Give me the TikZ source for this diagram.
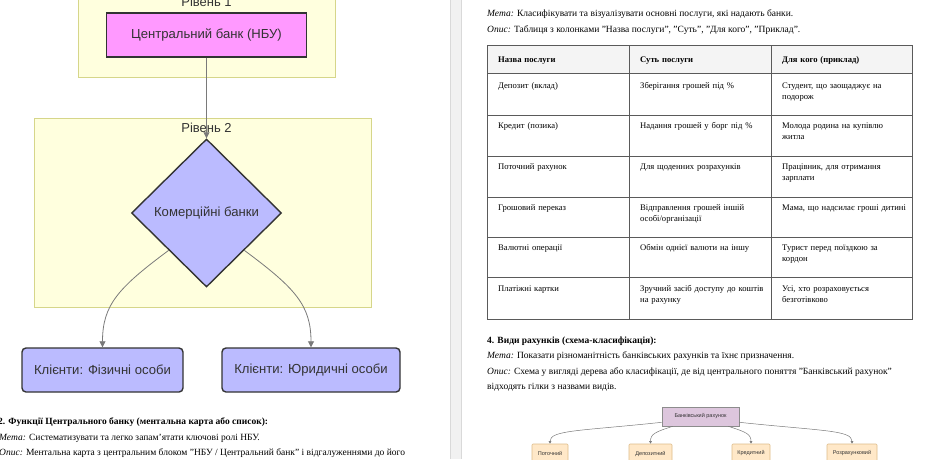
\documentclass[tikz,border=0pt]{standalone}
\usepackage{fontspec}
\setmainfont{Liberation Serif}
\newfontfamily\chartfont{Liberation Sans}
\definecolor{rivenFill}{HTML}{FFFFDE}
\definecolor{rivenLine}{HTML}{D6D68A}
\definecolor{nbuFill}{HTML}{FF99FF}
\definecolor{bankFill}{HTML}{BBBBFF}
\definecolor{chartLine}{HTML}{333333}
\definecolor{edgeGrey}{HTML}{7A7A7A}
\definecolor{pageGap}{HTML}{F1F1F1}
\definecolor{tableLine}{HTML}{5A5A5A}
\definecolor{headFill}{HTML}{F4F4F4}
\definecolor{rootFill}{HTML}{DDC6DD}
\definecolor{rootLine}{HTML}{8C8C8C}
\definecolor{leafFill}{HTML}{FFE8C8}
\definecolor{leafLine}{HTML}{DDBB88}
\usetikzlibrary{
	arrows.meta,
	positioning,
	shapes.geometric
}
\tikzset{
	riven/.style={
		draw=rivenLine,
		fill=rivenFill,
		line width=1pt
	},
	rivenNapys/.style={
		font=\chartfont\fontsize{13}{16}\selectfont,
		text=chartLine
	},
	nbuBox/.style={
		draw=chartLine,
		fill=nbuFill,
		line width=1.4pt,
		minimum width=200pt,
		minimum height=44pt,
		font=\chartfont\fontsize{13.1}{16}\selectfont,
		text=chartLine
	},
	bankRomb/.style={
		diamond,
		draw=chartLine,
		fill=bankFill,
		line width=1.4pt,
		inner sep=0pt,
		minimum width=150pt,
		minimum height=148pt,
		font=\chartfont\fontsize{13.1}{16}\selectfont,
		text=chartLine
	},
	klient/.style={
		draw=chartLine,
		fill=bankFill,
		rounded corners=4pt,
		line width=1.4pt,
		minimum height=44pt,
		font=\chartfont\fontsize{13.1}{16}\selectfont,
		text=chartLine
	},
	strilka/.style={
		-{Triangle[length=6pt,width=6pt]},
		line width=0.8pt,
		edgeGrey
	},
	abzac/.style={
		anchor=base west,
		inner sep=0pt,
		font=\fontsize{9.5}{12}\selectfont
	},
	komirka/.style={
		anchor=base west,
		inner sep=0pt,
		text width=135pt,
		align=left,
		font=\fontsize{8.6}{11.5}\selectfont
	},
	liniya/.style={
		draw=tableLine,
		line width=1pt
	},
	korin/.style={
		draw=rootLine,
		fill=rootFill,
		line width=0.6pt,
		minimum width=77pt,
		minimum height=19pt,
		inner sep=0pt,
		font=\chartfont\fontsize{5.5}{7}\selectfont,
		text=chartLine
	},
	vyd/.style={
		draw=leafLine,
		fill=leafFill,
		rounded corners=1pt,
		line width=0.6pt,
		minimum height=19pt,
		inner sep=0pt,
		font=\chartfont\fontsize{5.5}{7}\selectfont,
		text=chartLine
	},
	strilkaMala/.style={
		-{Triangle[length=2.5pt,width=2.5pt]},
		line width=0.5pt,
		edgeGrey
	}
}

\begin{document}
\begin{tikzpicture}[x=1pt, y=-1pt]
	\useasboundingbox (0,0) rectangle (940,459);
	\clip (0,0) rectangle (940,459);
	% left page: levels scheme
	\draw[riven] (78,-40) rectangle (335,77);
	\node[rivenNapys] (riven1) at (206.5,2) {Рівень 1};
	\draw[riven] (34,118) rectangle (371,307);
	\node[rivenNapys] (riven2) at (206.5,128) {Рівень 2};
	\node[nbuBox] (nbu) at (206.5,35) {Центральний банк (НБУ)};
	\node[bankRomb] (banky) at (206.5,213) {Комерційні банки};
	\node[klient, minimum width=161pt] (fizychni) at (102.5,370) {Клієнти: Фізичні особи};
	\node[klient, minimum width=178pt] (yurydychni) at (311,370) {Клієнти: Юридичні особи};
	\draw[strilka] (nbu.south) -- (banky.north);
	\draw[strilka] (banky.south west) .. controls (118,288) and (102.5,305) .. (fizychni.north);
	\draw[strilka] (banky.south east) .. controls (295,288) and (311,305) .. (yurydychni.north);
	\node[abzac, font=\fontsize{9.5}{12}\selectfont\bfseries] (punkt2) at (-2,424.5) {2. Функції Центрального банку (ментальна карта або список):};
	\node[abzac] (meta2) at (-1,440) {\textit{Мета:} Систематизувати та легко запам'ятати ключові ролі НБУ.};
	\node[abzac] (opys2) at (-1,455.5) {\textit{Опис:} Ментальна карта з центральним блоком "НБУ / Центральний банк" і відгалуженнями до його};
	% gap between pages
	\fill[pageGap] (450,0) rectangle (461,459);
	\draw[gray!30] (450,0) -- (450,459);
	\draw[gray!30] (461,0) -- (461,459);
	% right page: services table
	\node[abzac] (meta3) at (487,16.5) {\textit{Мета:} Класифікувати та візуалізувати основні послуги, які надають банки.};
	\node[abzac] (opys3) at (487,32) {\textit{Опис:} Таблиця з колонками "Назва послуги", "Суть", "Для кого", "Приклад".};
	\fill[headFill] (487,45) rectangle (912,73);
	\foreach \y in {73,115,156,197,237,277}
		\draw[liniya] (487,\y) -- (912,\y);
	\foreach \x in {629,771}
		\draw[liniya] (\x,45) -- (\x,319);
	\draw[liniya] (487,45) rectangle (912,319);
	\node[komirka, font=\fontsize{8.6}{11.5}\selectfont\bfseries] (h1) at (498,62) {Назва послуги};
	\node[komirka, font=\fontsize{8.6}{11.5}\selectfont\bfseries] (h2) at (640,62) {Суть послуги};
	\node[komirka, font=\fontsize{8.6}{11.5}\selectfont\bfseries] (h3) at (782,62) {Для кого (приклад)};
	\node[komirka] (a1) at (498,88) {Депозит (вклад)};
	\node[komirka] (b1) at (640,88) {Зберігання грошей під \%};
	\node[komirka] (c1) at (782,88) {Студент, що заощаджує на\\подорож};
	\node[komirka] (a2) at (498,128) {Кредит (позика)};
	\node[komirka] (b2) at (640,128) {Надання грошей у борг під \%};
	\node[komirka] (c2) at (782,128) {Молода родина на купівлю\\житла};
	\node[komirka] (a3) at (498,169) {Поточний рахунок};
	\node[komirka] (b3) at (640,169) {Для щоденних розрахунків};
	\node[komirka] (c3) at (782,169) {Працівник, для отримання\\зарплати};
	\node[komirka] (a4) at (498,210) {Грошовий переказ};
	\node[komirka] (b4) at (640,210) {Відправлення грошей іншій\\особі/організації};
	\node[komirka] (c4) at (782,210) {Мама, що надсилає гроші дитині};
	\node[komirka] (a5) at (498,250) {Валютні операції};
	\node[komirka] (b5) at (640,250) {Обмін однієї валюти на іншу};
	\node[komirka] (c5) at (782,250) {Турист перед поїздкою за\\кордон};
	\node[komirka] (a6) at (498,291) {Платіжні картки};
	\node[komirka] (b6) at (640,291) {Зручний засіб доступу до коштів\\на рахунку};
	\node[komirka] (c6) at (782,291) {Усі, хто розраховується\\безготівково};
	% right page: kinds of accounts
	\node[abzac, font=\fontsize{9.5}{12}\selectfont\bfseries] (punkt4) at (487,343) {4. Види рахунків (схема-класифікація):};
	\node[abzac] (meta4) at (487,358.5) {\textit{Мета:} Показати різноманітність банківських рахунків та їхнє призначення.};
	\node[abzac] (opys4) at (487,374) {\textit{Опис:} Схема у вигляді дерева або класифікації, де від центрального поняття "Банківський рахунок"};
	\node[abzac] (opys4b) at (487,389.5) {відходять гілки з назвами видів.};
	\node[korin] (rakhunok) at (700.5,416.5) {Банківський рахунок};
	\node[vyd, minimum width=36pt] (potochnyi) at (550,453.5) {Поточний};
	\node[vyd, minimum width=43pt] (depozytnyi) at (650.5,453.5) {Депозитний};
	\node[vyd, minimum width=38pt] (kredytnyi) at (751,453.5) {Кредитний};
	\node[vyd, minimum width=50pt] (rozrakhunkovyi) at (852,453.5) {Розрахунковий};
	\draw[strilkaMala] ([yshift=4pt]rakhunok.south west) .. controls (580,431) and (550,430) .. (potochnyi.north);
	\draw[strilkaMala] ([xshift=11pt]rakhunok.south west) .. controls (655,432) and (650.5,434) .. (depozytnyi.north);
	\draw[strilkaMala] ([xshift=-11pt]rakhunok.south east) .. controls (746,432) and (751,434) .. (kredytnyi.north);
	\draw[strilkaMala] ([yshift=4pt]rakhunok.south east) .. controls (822,431) and (852,430) .. (rozrakhunkovyi.north);
\end{tikzpicture}
\end{document}
